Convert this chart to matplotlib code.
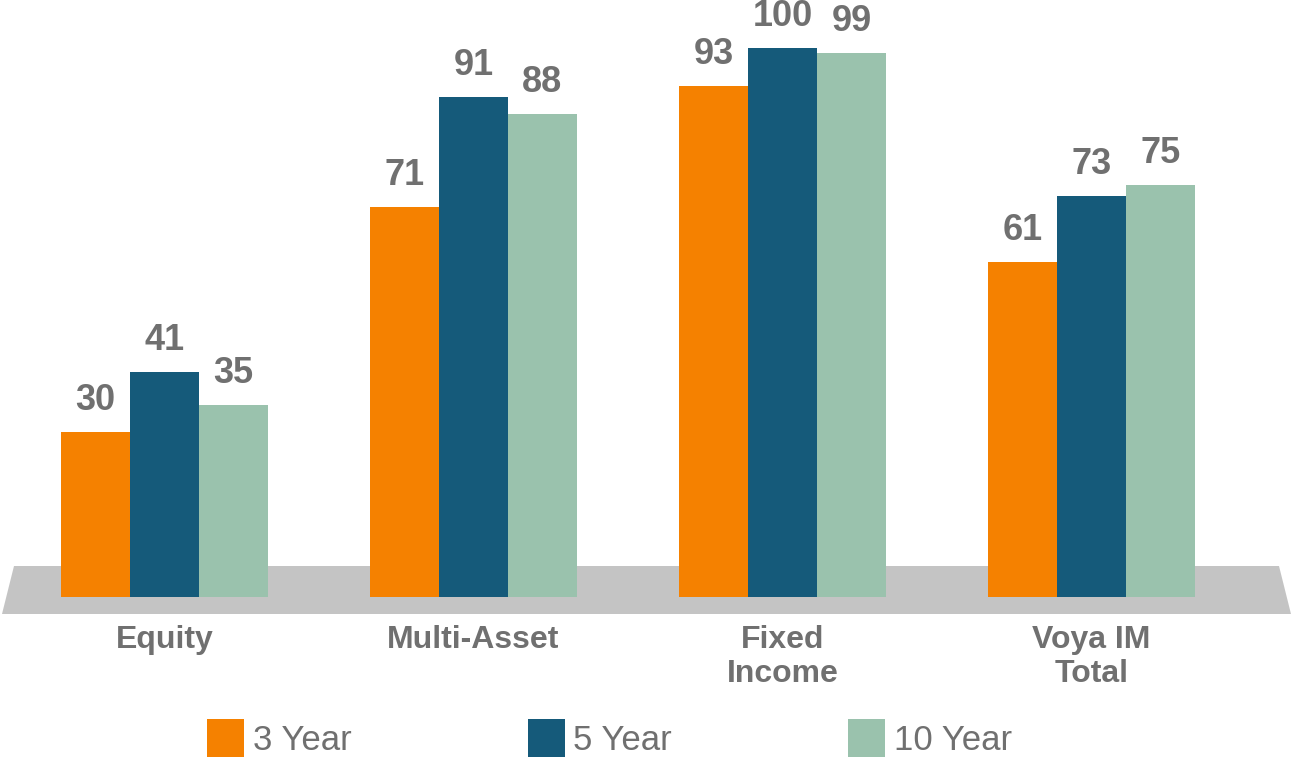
import numpy as np
import matplotlib
matplotlib.use("Agg")
import matplotlib.pyplot as plt
from matplotlib.patches import Polygon

plt.rcParams["font.family"] = ["Liberation Sans", "DejaVu Sans"]

# Data
categories = ["Equity", "Multi-Asset", "Fixed\nIncome", "Voya IM\nTotal"]
series_names = ["3 Year", "5 Year", "10 Year"]
three_year = [30, 71, 93, 61]
five_year = [41, 91, 100, 73]
ten_year = [35, 88, 99, 75]
colors = ["#F58100", "#155A7A", "#9AC2AD"]
text_gray = "#707070"

W, H = 1291, 758
fig = plt.figure(figsize=(W / 100, H / 100), dpi=100)

# axes: y=0 at pixel 597, y=100 at pixel 48
y0_px, y100_px = 597, 48
ax = fig.add_axes([0, (H - y0_px) / H, 1, (y0_px - y100_px) / H])
ax.set_ylim(0, 100)
step = 309
c0 = 164.5
ax.set_xlim(-c0 / step, (W - c0) / step)
ax.axis("off")

# grey floor behind the bars (pixel coords)
floor = Polygon([(14, H - 566), (1279, H - 566), (1291, H - 614), (2, H - 614)],
                closed=True, transform=None, facecolor="#C4C4C4",
                edgecolor="none", zorder=-1)
fig.patches.append(floor)

x = np.arange(len(categories))
width = 69 / step
handles = []
for i, (vals, col, name) in enumerate(zip([three_year, five_year, ten_year],
                                          colors, series_names)):
    bars = ax.bar(x + (i - 1) * width, vals, width, color=col, label=name,
                  zorder=2, clip_on=False)
    handles.append(bars)
    for xi, v in zip(x + (i - 1) * width, vals):
        ax.annotate(str(v), (xi, v), xytext=(0, 16), textcoords="offset points",
                    ha="center", va="baseline", fontsize=26, fontweight="bold",
                    color=text_gray, annotation_clip=False)

for xi, cat in zip(x, categories):
    ax.annotate(cat, (xi, 0), xytext=(0, -20), textcoords="offset points",
                ha="center", va="top", fontsize=23, fontweight="bold",
                color=text_gray, linespacing=1.2, annotation_clip=False)

leg = fig.legend(handles=handles, loc="upper left",
                 bbox_to_anchor=(207 / W, (H - 719) / H), ncol=3, frameon=False,
                 fontsize=25, handlelength=1.07, handleheight=1.3,
                 handletextpad=0.25, columnspacing=5.07, borderpad=0,
                 borderaxespad=0)
for t in leg.get_texts():
    t.set_color(text_gray)

fig.savefig("out.png", dpi=100)
